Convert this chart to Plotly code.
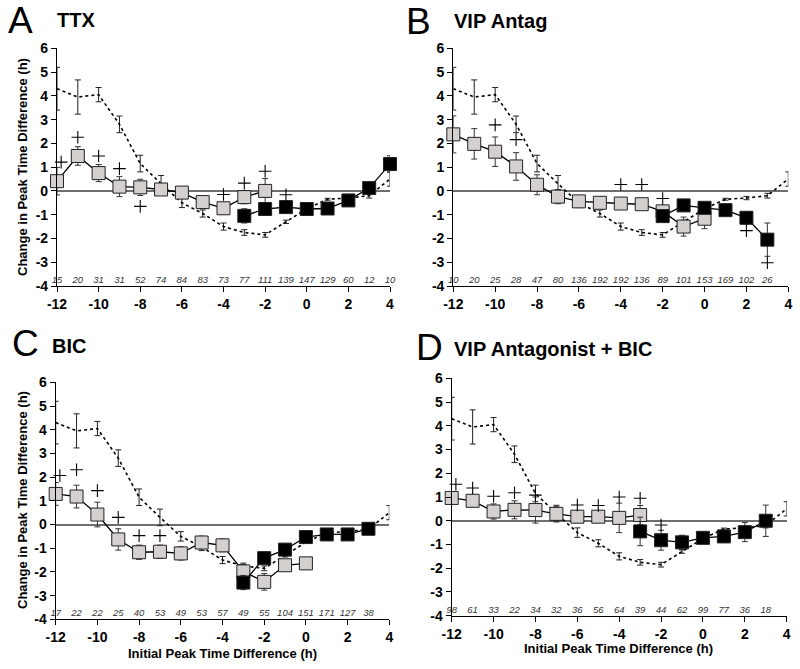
import plotly.graph_objects as go

# ---------------- data ----------------
x_ctrl = [-12, -11, -10, -9, -8, -7, -6, -5, -4, -3, -2, -1, 0, 1, 2, 3, 4]
ctrl = [4.3, 3.95, 4.05, 2.8, 1.15, 0.3, -0.5, -0.95, -1.5, -1.75, -1.85, -1.3, -0.75, -0.35, -0.3, -0.2, 0.5]
ctrl_err = [0.9, 0.72, 0.3, 0.35, 0.35, 0.35, 0.2, 0.15, 0.15, 0.12, 0.1, 0.07, 0.05, 0.04, 0.07, 0.1, 0.3]

# Panel A: TTX
A_gray_x = [-12, -11, -10, -9, -8, -7, -6, -5, -4, -3, -2]
A_gray = [0.41, 1.47, 0.75, 0.18, 0.15, 0.06, -0.07, -0.47, -0.73, -0.26, 0.0]
A_gray_err = [0.58, 0.39, 0.36, 0.42, 0.34, 0.2, 0.2, 0.25, 0.25, 0.28, 0.52]
A_black_x = [-3, -2, -1, 0, 1, 2, 3, 4]
A_black = [-1.05, -0.76, -0.68, -0.76, -0.74, -0.4, 0.12, 1.13]
A_black_err = [0.3, 0.25, 0.15, 0.12, 0.12, 0.08, 0.2, 0.35]
A_plus_x = [-11.8, -11, -10, -9, -8, -4, -3, -2, -1]
A_plus_y = [1.21, 2.26, 1.47, 0.94, -0.65, -0.15, 0.33, 0.83, -0.16]
A_n = [15, 20, 31, 31, 52, 74, 84, 83, 73, 77, 111, 139, 147, 129, 60, 12, 10]

# Panel B: VIP Antag
B_gray_x = [-12, -11, -10, -9, -8, -7, -6, -5, -4, -3, -2, -1, 0]
B_gray = [2.38, 1.98, 1.65, 1.03, 0.26, -0.24, -0.44, -0.5, -0.53, -0.56, -0.86, -1.5, -1.17]
B_gray_err = [0.78, 0.64, 0.62, 0.58, 0.42, 0.3, 0.2, 0.1, 0.1, 0.1, 0.25, 0.4, 0.42]
B_black_x = [-2, -1, 0, 1, 2, 3]
B_black = [-1.06, -0.61, -0.71, -0.81, -1.13, -2.05]
B_black_err = [0.2, 0.1, 0.12, 0.1, 0.25, 0.7]
B_plus_x = [-10, -9, -4, -3, -2, 2, 3]
B_plus_y = [2.78, 2.16, 0.27, 0.27, -0.32, -1.67, -3.02]
B_n = [10, 20, 25, 28, 47, 80, 136, 192, 192, 136, 89, 101, 153, 169, 102, 26]

# Panel C: BIC
C_gray_x = [-12, -11, -10, -9, -8, -7, -6, -5, -4, -3, -2, -1, 0]
C_gray = [1.29, 1.18, 0.42, -0.63, -1.17, -1.15, -1.22, -0.76, -0.88, -1.98, -2.42, -1.72, -1.64]
C_gray_err = [0.48, 0.48, 0.52, 0.45, 0.3, 0.28, 0.28, 0.27, 0.27, 0.3, 0.35, 0.2, 0.22]
C_black_x = [-3, -2, -1, 0, 1, 2, 3]
C_black = [-2.45, -1.42, -1.06, -0.53, -0.42, -0.42, -0.18]
C_black_err = [0.3, 0.25, 0.12, 0.1, 0.08, 0.06, 0.12]
C_plus_x = [-11.8, -11, -10, -9, -8, -7]
C_plus_y = [2.07, 2.31, 1.43, 0.3, -0.47, -0.47]
C_n = [17, 22, 22, 25, 40, 53, 49, 53, 57, 49, 55, 104, 151, 171, 127, 38]

# Panel D: VIP Antagonist + BIC
D_gray_x = [-12, -11, -10, -9, -8, -7, -6, -5, -4, -3]
D_gray = [0.96, 0.84, 0.39, 0.46, 0.45, 0.29, 0.17, 0.17, 0.12, 0.24]
D_gray_err = [0.1, 0.23, 0.32, 0.38, 0.55, 0.3, 0.1, 0.1, 0.62, 0.4]
D_black_x = [-3, -2, -1, 0, 1, 2, 3]
D_black = [-0.45, -0.82, -0.91, -0.72, -0.66, -0.48, 0.0]
D_black_err = [0.6, 0.42, 0.3, 0.2, 0.25, 0.4, 0.66]
D_plus_x = [-11.8, -11, -10, -9, -8, -6, -5, -4, -3, -2]
D_plus_y = [1.54, 1.38, 1.03, 1.18, 1.08, 0.66, 0.64, 1.0, 0.95, -0.18]
D_n = [98, 61, 33, 22, 34, 32, 36, 56, 64, 39, 44, 62, 99, 77, 36, 18]

x_ticks = [-12, -10, -8, -6, -4, -2, 0, 2, 4]
y_ticks = [-4, -3, -2, -1, 0, 1, 2, 3, 4, 5, 6]

panels = [
    dict(letter="A", title="TTX", gx=A_gray_x, g=A_gray, ge=A_gray_err, bx=A_black_x, b=A_black, be=A_black_err,
         px=A_plus_x, py=A_plus_y, n=A_n,
         dx=[57 / 800, 390 / 800], dy=[1 - 286 / 669, 1 - 48.3 / 669]),
    dict(letter="B", title="VIP Antag", gx=B_gray_x, g=B_gray, ge=B_gray_err, bx=B_black_x, b=B_black, be=B_black_err,
         px=B_plus_x, py=B_plus_y, n=B_n,
         dx=[453.3 / 800, 788.3 / 800], dy=[1 - 286 / 669, 1 - 48.3 / 669]),
    dict(letter="C", title="BIC", gx=C_gray_x, g=C_gray, ge=C_gray_err, bx=C_black_x, b=C_black, be=C_black_err,
         px=C_plus_x, py=C_plus_y, n=C_n,
         dx=[55.7 / 800, 389.3 / 800], dy=[1 - 619.3 / 669, 1 - 382.3 / 669]),
    dict(letter="D", title="VIP Antagonist + BIC", gx=D_gray_x, g=D_gray, ge=D_gray_err, bx=D_black_x, b=D_black,
         be=D_black_err, px=D_plus_x, py=D_plus_y, n=D_n,
         dx=[451.7 / 800, 786.7 / 800], dy=[1 - 615.7 / 669, 1 - 378.3 / 669]),
]

FONT = "Arial, 'Liberation Sans', sans-serif"
fig = go.Figure()
layout = {}
annotations = []

for i, p in enumerate(panels):
    k = "" if i == 0 else str(i + 1)
    xa, ya = "x" + k, "y" + k
    # control (dotted)
    fig.add_trace(go.Scatter(
        x=x_ctrl, y=ctrl, xaxis=xa, yaxis=ya, mode="lines",
        line=dict(color="black", width=1.6, dash="dot"),
        error_y=dict(type="data", array=ctrl_err, color="#222", thickness=1, width=3),
        cliponaxis=False, showlegend=False, hoverinfo="skip"))
    # gray series
    fig.add_trace(go.Scatter(
        x=p["gx"], y=p["g"], xaxis=xa, yaxis=ya, mode="lines+markers",
        line=dict(color="black", width=1.3),
        marker=dict(symbol="square", size=13, color="#d4d0d0", line=dict(color="#222", width=1)),
        error_y=dict(type="data", array=p["ge"], color="#333", thickness=1, width=3),
        cliponaxis=False, showlegend=False, hoverinfo="skip"))
    # black series
    fig.add_trace(go.Scatter(
        x=p["bx"], y=p["b"], xaxis=xa, yaxis=ya, mode="lines+markers",
        line=dict(color="black", width=1.3),
        marker=dict(symbol="square", size=13, color="black", line=dict(color="#222", width=1)),
        error_y=dict(type="data", array=p["be"], color="#333", thickness=1, width=3),
        cliponaxis=False, showlegend=False, hoverinfo="skip"))
    # significance crosses
    fig.add_trace(go.Scatter(
        x=p["px"], y=p["py"], xaxis=xa, yaxis=ya, mode="markers",
        marker=dict(symbol="cross-thin", size=9, line=dict(color="black", width=1.1)),
        cliponaxis=False, showlegend=False, hoverinfo="skip"))
    # n labels
    nx = x_ctrl[:len(p["n"])]
    fig.add_trace(go.Scatter(
        x=nx, y=[-3.78] * len(nx), xaxis=xa, yaxis=ya, mode="text",
        text=[f"<i>{v}</i>" for v in p["n"]],
        textfont=dict(family=FONT, size=9.5, color="#333"),
        cliponaxis=False, showlegend=False, hoverinfo="skip"))

    layout["xaxis" + k] = dict(
        domain=p["dx"], range=[-12, 4], anchor=ya, tickvals=x_ticks, automargin=False,
        ticktext=[f"<b>{v}</b>" for v in x_ticks],
        showline=True, linecolor="black", linewidth=1.2, ticks="outside", ticklen=5,
        tickcolor="black", showgrid=False, zeroline=False,
        tickfont=dict(family=FONT, size=14, color="black"))
    layout["yaxis" + k] = dict(
        domain=p["dy"], range=[-4, 6], anchor=xa, tickvals=y_ticks, automargin=False,
        ticktext=[f"<b>{v}</b>" for v in y_ticks],
        showline=True, linecolor="black", linewidth=1.2, ticks="outside", ticklen=5,
        tickcolor="black", showgrid=False, zeroline=True, zerolinecolor="#6e6e6e",
        zerolinewidth=1.5, tickfont=dict(family=FONT, size=14, color="black"))

# panel letters and titles
letter_pos = {"A": (6, 20), "B": (404, 22), "C": (10, 343), "D": (414, 348)}
title_pos = {"A": (55, 20), "B": (452, 21), "C": (50, 346), "D": (452, 349)}
for p in panels:
    lx, ly = letter_pos[p["letter"]]
    annotations.append(dict(text=p["letter"], x=lx / 800, y=1 - ly / 669, xref="paper", yref="paper",
                            xanchor="left", yanchor="middle", showarrow=False,
                            font=dict(family=FONT, size=37, color="black")))
    tx, ty = title_pos[p["letter"]]
    annotations.append(dict(text=f"<b>{p['title']}</b>", x=tx / 800, y=1 - ty / 669, xref="paper",
                            yref="paper", xanchor="left", yanchor="middle", showarrow=False,
                            font=dict(family=FONT, size=20, color="black")))

# axis titles
for (x, y) in [(22, 167), (22, 500)]:
    annotations.append(dict(text="<b>Change in Peak Time Difference (h)</b>", x=x / 800, y=1 - y / 669,
                            xref="paper", yref="paper", textangle=-90, showarrow=False,
                            xanchor="center", yanchor="middle",
                            font=dict(family=FONT, size=13, color="black")))
for (x, y) in [(222, 653), (618, 648)]:
    annotations.append(dict(text="<b>Initial Peak Time Difference (h)</b>", x=x / 800, y=1 - y / 669,
                            xref="paper", yref="paper", showarrow=False,
                            xanchor="center", yanchor="middle",
                            font=dict(family=FONT, size=13, color="black")))

fig.update_layout(width=800, height=669, margin=dict(l=0, r=0, t=0, b=0, autoexpand=False),
                  paper_bgcolor="white", plot_bgcolor="white",
                  annotations=annotations, **layout)
fig.write_html("out.html", config={"displayModeBar": False},
               post_script="document.body.style.margin='0px';")
